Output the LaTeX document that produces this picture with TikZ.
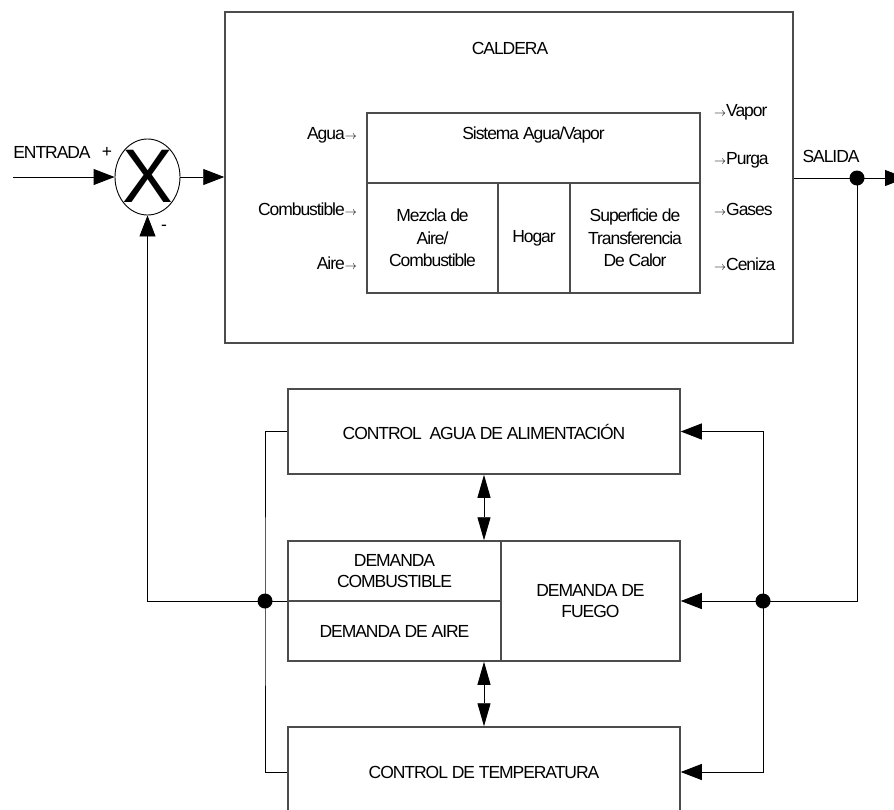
\documentclass[tikz,border=0pt]{standalone}
\usepackage{fontspec}
\setmainfont{Liberation Sans}[LetterSpace=-6]
\usetikzlibrary{arrows.meta,positioning,shapes.geometric}

\tikzset{
	bloque/.style = {draw = black!70, line width = 1.5pt, inner sep = 0pt, align = center},
	linea/.style = {black, line width = 0.9pt},
	flecha/.style = {linea, -{Triangle[length=21pt,width=16pt]}},
	doble/.style = {linea, {Triangle[length=23pt,width=13pt]}-{Triangle[length=23pt,width=13pt]}},
	punto/.style = {circle, fill = black, inner sep = 0pt, minimum size = 15pt},
	etiqueta/.style = {inner sep = 0pt, align = center}
}
\newcommand{\fl}{{\fontsize{12}{12}\selectfont$\rightarrow$}}

\begin{document}
\begin{tikzpicture}[x=1pt, y=-1pt, font=\fontsize{17.5}{21}\selectfont]
	\useasboundingbox (0,0) rectangle (894,809);

	% caldera y sus partes
	\node [bloque, minimum width = 568, minimum height = 331] (caldera) at (509,177.5) {};
	\node [etiqueta] (calderal) at (510,48) {CALDERA};
	\node [bloque, minimum width = 333, minimum height = 70] (sistema) at (533.5,148) {};
	\node [etiqueta] (sistemal) at (533.5,135) {Sistema Agua/Vapor};
	\node [bloque, minimum width = 131, minimum height = 110, font=\fontsize{17.5}{22.5}\selectfont] (mezcla) at (432.5,238) {Mezcla de\\Aire/\\Combustible};
	\node [bloque, minimum width = 72, minimum height = 110] (hogar) at (534,238) {Hogar};
	\node [bloque, minimum width = 130, minimum height = 110, font=\fontsize{17.5}{22.5}\selectfont] (superficie) at (635,238) {Superficie de\\Transferencia\\De Calor};

	\node [etiqueta, anchor = east] (agua) at (357,135) {Agua\fl};
	\node [etiqueta, anchor = east] (combustible) at (357,209) {Combustible\fl};
	\node [etiqueta, anchor = east] (aire) at (357,263) {Aire\fl};
	\node [etiqueta, anchor = west] (vapor) at (714,112) {\fl Vapor};
	\node [etiqueta, anchor = west] (purga) at (714,160) {\fl Purga};
	\node [etiqueta, anchor = west] (gases) at (714,209) {\fl Gases};
	\node [etiqueta, anchor = west] (ceniza) at (714,264) {\fl Ceniza};

	% comparador
	\node [draw, ellipse, line width = 0.9pt, minimum width = 65, minimum height = 76, inner sep = 0pt] (sum) at (147.5,177) {};
	\node [etiqueta, font = \fontsize{76}{76}\selectfont, text height = 50pt, text depth = 0pt] (signo) at (sum) {X};
	\node [etiqueta] (entradal) at (52,152) {ENTRADA};
	\node [etiqueta] (mas) at (107,152) {+};
	\node [etiqueta] (menos) at (164,228) {-};
	\node [etiqueta] (salidal) at (831,156) {SALIDA};

	% lazos de control
	\node [bloque, minimum width = 392, minimum height = 85] (control) at (484,431.5) {CONTROL\ \ AGUA DE ALIMENTACIÓN};
	\node [bloque, minimum width = 213, minimum height = 60] (demcomb) at (394.5,571) {DEMANDA\\COMBUSTIBLE};
	\node [bloque, minimum width = 213, minimum height = 60] (demaire) at (394.5,631) {DEMANDA DE AIRE};
	\node [bloque, minimum width = 179, minimum height = 120] (fuego) at (590.5,601) {DEMANDA DE\\FUEGO};
	\node [bloque, minimum width = 392, minimum height = 90] (temp) at (484,772) {CONTROL DE TEMPERATURA};

	\coordinate (entrada) at (13,177);
	\coordinate (salida) at (906,178);
	\coordinate (jo) at (857,178);
	\coordinate (jl) at (265,601);
	\coordinate (jr) at (763,601);

	\draw [flecha] (entrada) -- (sum.west);
	\draw [flecha] (sum.east) -- (sum.east -| caldera.west);
	\draw [flecha] (salida -| caldera.east) -- (salida);
	\draw [flecha] (jo) |- (fuego.east);
	\draw [flecha] (jr) |- (control.east);
	\draw [flecha] (jr) |- (temp.east);
	\draw [linea] (control.west) -| (jl) |- (temp.west);
	\draw [flecha] (demcomb.south west) -| (sum.south);
	\draw [doble] (control.south) -- (control.south |- fuego.north);
	\draw [doble] (control.south |- fuego.south) -- (temp.north);

	\node [punto] (po) at (jo) {};
	\node [punto] (pl) at (jl) {};
	\node [punto] (pr) at (jr) {};
\end{tikzpicture}
\end{document}
